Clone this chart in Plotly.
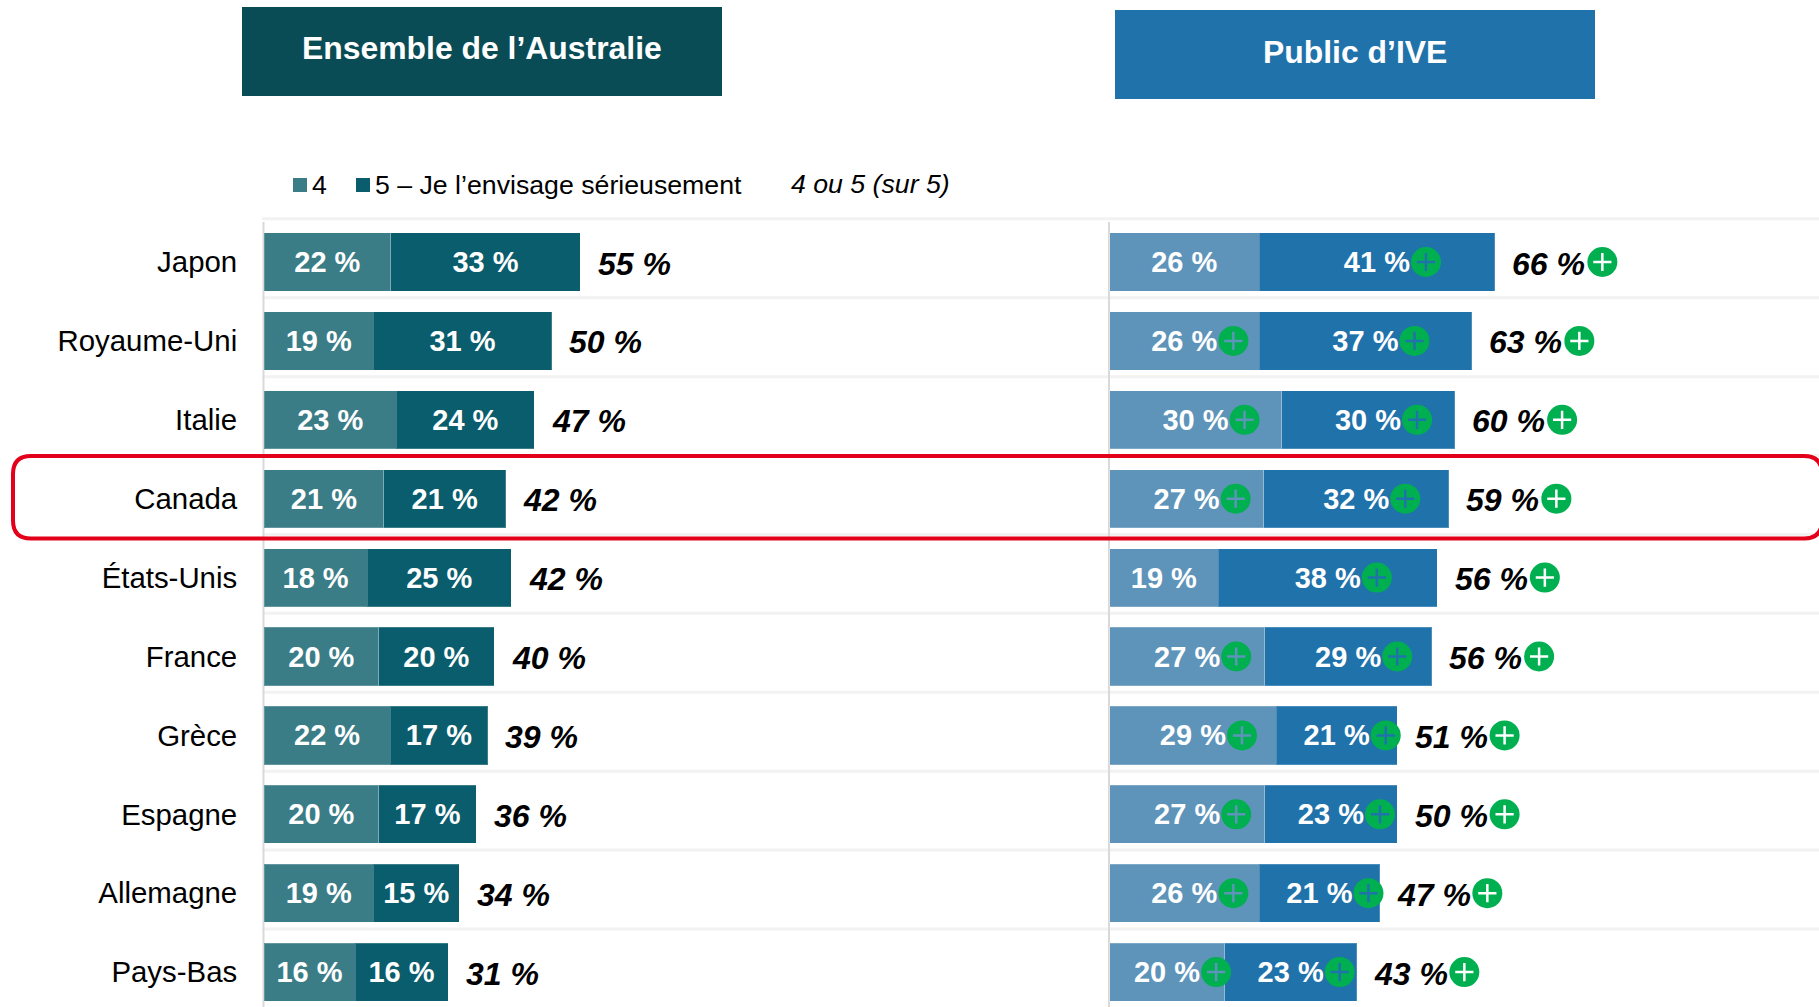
import plotly.graph_objects as go

countries = ["Japon", "Royaume-Uni", "Italie", "Canada", "États-Unis", "France", "Grèce", "Espagne", "Allemagne", "Pays-Bas"]

aus_4 = [22, 19, 23, 20.8, 17.9, 19.9, 21.9, 19.9, 19, 15.8]
aus_5 = [33, 31, 24, 21.2, 25.1, 20.1, 17, 17, 14.9, 16.2]
aus_4_labels = ["22 %", "19 %", "23 %", "21 %", "18 %", "20 %", "22 %", "20 %", "19 %", "16 %"]
aus_5_labels = ["33 %", "31 %", "24 %", "21 %", "25 %", "20 %", "17 %", "17 %", "15 %", "16 %"]
aus_total_labels = ["55 %", "50 %", "47 %", "42 %", "42 %", "40 %", "39 %", "36 %", "34 %", "31 %"]

ive_4 = [26, 26, 29.9, 26.8, 18.9, 27, 29, 27, 26, 20]
ive_5 = [41, 37, 30.1, 32.2, 38.1, 29, 21, 23, 21, 23]
ive_4_labels = ["26 %", "26 %", "30 %", "27 %", "19 %", "27 %", "29 %", "27 %", "26 %", "20 %"]
ive_5_labels = ["41 %", "37 %", "30 %", "32 %", "38 %", "29 %", "21 %", "23 %", "21 %", "23 %"]
ive_total_labels = ["66 %", "63 %", "60 %", "59 %", "56 %", "56 %", "51 %", "50 %", "47 %", "43 %"]

ive_4_plus = [False, True, True, True, False, True, True, True, True, True]
ive_5_plus = [True] * 10
ive_total_plus = [True] * 10

W, H = 1819, 1007
PX_PER_UNIT = 5.75
LEFT_ZERO, RIGHT_ZERO = 264.2, 1109.6
ROW0, PITCH = 262, 78.9
FONT = "Liberation Sans"
C_AUS4, C_AUS5, C_IVE4, C_IVE5 = "#3B7D87", "#0A5D6C", "#5E94BA", "#2072AB"
GREEN = "#00B050"
EDGE = "rgba(255,255,255,0.2)"


def px(v):
    return v / W


def py(v):
    return 1 - v / H


fig = go.Figure()


def add_bar(vals, labels, color, xaxis):
    fig.add_trace(go.Bar(
        x=vals, y=countries, orientation="h", xaxis=xaxis, yaxis="y",
        marker=dict(color=color, line=dict(color=EDGE, width=1)),
        text=labels, textposition="inside", insidetextanchor="middle", textangle=0,
        constraintext="none", cliponaxis=False,
        textfont=dict(family=FONT, size=29, color="white", weight="bold"),
        showlegend=False, width=58.2 / PITCH,
    ))


add_bar(aus_4, aus_4_labels, C_AUS4, "x")
add_bar(aus_5, aus_5_labels, C_AUS5, "x")
add_bar(ive_4, ive_4_labels, C_IVE4, "x2")
add_bar(ive_5, ive_5_labels, C_IVE5, "x2")

# Totals
for a, b, lab, c in zip(aus_4, aus_5, aus_total_labels, countries):
    fig.add_annotation(x=a + b, y=c, xref="x", yref="y", text=f"<b><i>{lab}</i></b>", showarrow=False,
                       xanchor="left", xshift=15.5, yshift=-1.5, font=dict(family=FONT, size=32, color="black"))
for a, b, lab, c in zip(ive_4, ive_5, ive_total_labels, countries):
    fig.add_annotation(x=a + b, y=c, xref="x2", yref="y", text=f"<b><i>{lab}</i></b>", showarrow=False,
                       xanchor="left", xshift=15.5, yshift=-1.5, font=dict(family=FONT, size=32, color="black"))

# Significance badges
SEG_OFF = 49 / PX_PER_UNIT
TOT_OFF = 107.5 / PX_PER_UNIT
bx, by, bc = [], [], []
for i, c in enumerate(countries):
    a, b = ive_4[i], ive_5[i]
    if ive_4_plus[i]:
        bx.append(a / 2 + SEG_OFF); by.append(c); bc.append(C_IVE4)
    if ive_5_plus[i]:
        bx.append(a + b / 2 + SEG_OFF); by.append(c); bc.append(C_IVE5)
    if ive_total_plus[i]:
        bx.append(a + b + TOT_OFF); by.append(c); bc.append("#FFFFFF")
fig.add_trace(go.Scatter(x=bx, y=by, xaxis="x2", yaxis="y", mode="markers", showlegend=False, cliponaxis=False,
                         marker=dict(symbol="circle", size=30, color=GREEN, line=dict(width=0))))
fig.add_trace(go.Scatter(x=bx, y=by, xaxis="x2", yaxis="y", mode="markers", showlegend=False, cliponaxis=False,
                         marker=dict(symbol="cross-thin", size=13, line=dict(color=bc, width=2.5))))

shapes = []
# row separators
for k in range(len(countries)):
    yv = k - 0.547
    shapes.append(dict(type="line", xref="paper", yref="y", x0=px(262), x1=1, y0=yv, y1=yv,
                       line=dict(color="#F2F2F2", width=3), layer="below"))
# vertical axis lines
for xv in (263.5, 1109):
    shapes.append(dict(type="line", xref="paper", yref="paper", x0=px(xv), x1=px(xv), y0=py(222), y1=0,
                       line=dict(color="#D9D9D9", width=2), layer="below"))
# header boxes
shapes.append(dict(type="rect", xref="paper", yref="paper", x0=px(242), x1=px(722), y0=py(96), y1=py(7),
                   fillcolor="#0A4C55", line=dict(width=0)))
shapes.append(dict(type="rect", xref="paper", yref="paper", x0=px(1115), x1=px(1595), y0=py(99), y1=py(10),
                   fillcolor="#2072AB", line=dict(width=0)))
# legend swatches
shapes.append(dict(type="rect", xref="paper", yref="paper", x0=px(293), x1=px(307), y0=py(192), y1=py(178),
                   fillcolor=C_AUS4, line=dict(width=0)))
shapes.append(dict(type="rect", xref="paper", yref="paper", x0=px(356), x1=px(370), y0=py(192), y1=py(178),
                   fillcolor=C_AUS5, line=dict(width=0)))
# highlight frame around Canada
x0, x1, y0, y1, r = 13, 1822, 456, 538.5, 18
pth = (f"M {px(x0 + r)},{py(y0)} L {px(x1 - r)},{py(y0)} Q {px(x1)},{py(y0)} {px(x1)},{py(y0 + r)} "
       f"L {px(x1)},{py(y1 - r)} Q {px(x1)},{py(y1)} {px(x1 - r)},{py(y1)} L {px(x0 + r)},{py(y1)} "
       f"Q {px(x0)},{py(y1)} {px(x0)},{py(y1 - r)} L {px(x0)},{py(y0 + r)} Q {px(x0)},{py(y0)} {px(x0 + r)},{py(y0)} Z")
shapes.append(dict(type="path", xref="paper", yref="paper", path=pth, line=dict(color="#E3001B", width=4)))


def note(x, y, text, size, color="black", anchor="left"):
    fig.add_annotation(x=px(x), y=py(y), xref="paper", yref="paper", text=text, showarrow=False, xanchor=anchor,
                       yanchor="middle", font=dict(family=FONT, size=size, color=color))


note(482, 48, "<b>Ensemble de l’Australie</b>", 31.9, "white", "center")
note(1355, 52, "<b>Public d’IVE</b>", 31.9, "white", "center")
note(310, 185, "4", 26.7)
note(373, 185, "5 – Je l’envisage sérieusement", 26.7)
note(789, 184, "<i>4 ou 5 (sur 5)</i>", 26.7)

fig.update_layout(
    width=W, height=H, autosize=False, margin=dict(l=0, r=0, t=0, b=0), barmode="stack",
    paper_bgcolor="white", plot_bgcolor="rgba(0,0,0,0)", shapes=shapes,
    font=dict(family=FONT), hovermode=False,
    xaxis=dict(domain=[0, 1], range=[-LEFT_ZERO / PX_PER_UNIT, (W - LEFT_ZERO) / PX_PER_UNIT], visible=False, anchor="y"),
    xaxis2=dict(domain=[0, 1], range=[-RIGHT_ZERO / PX_PER_UNIT, (W - RIGHT_ZERO) / PX_PER_UNIT], visible=False,
                overlaying="x", anchor="y"),
    yaxis=dict(domain=[0, 1], type="category", categoryorder="array", categoryarray=countries,
               range=[(H - ROW0) / PITCH, -ROW0 / PITCH], anchor="free", position=LEFT_ZERO / W, side="left",
               showgrid=False, zeroline=False, showline=False, ticks="", ticklabelstandoff=27, automargin=False,
               tickfont=dict(family=FONT, size=29.4, color="black")),
)
fig.write_html("out.html", config=dict(displayModeBar=False),
               post_script="document.body.style.margin='0';document.body.style.overflow='hidden';")
